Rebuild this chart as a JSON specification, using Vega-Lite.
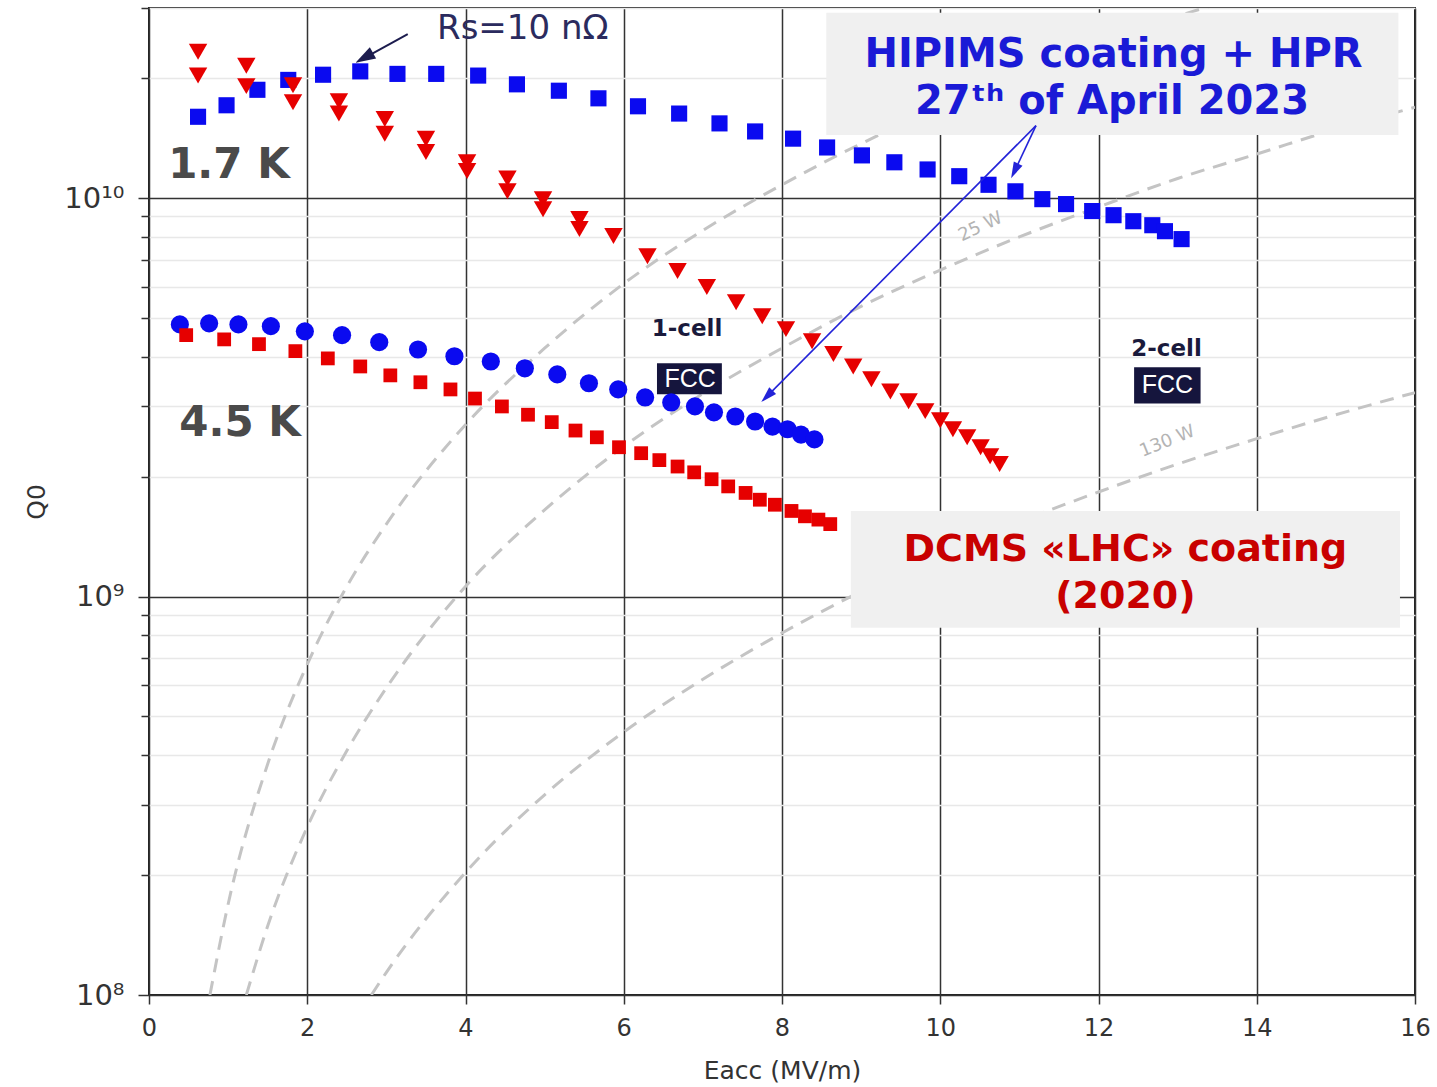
{
  "$schema": "https://vega.github.io/schema/vega-lite/v6.json",
  "width": 1266,
  "height": 987,
  "autosize": {"type": "none"},
  "padding": {"left": 149, "top": 8, "right": 22, "bottom": 92},
  "background": "white",
  "config": {"view": {"stroke": "#222222", "strokeWidth": 2}, "font": "DejaVu Sans"},
  "datasets": {
    "hipims17": [
      {"E":0.62,"Q":1.60e10},{"E":0.98,"Q":1.71e10},{"E":1.37,"Q":1.87e10},{"E":1.76,"Q":1.98e10},{"E":2.20,"Q":2.04e10},{"E":2.67,"Q":2.08e10},{"E":3.14,"Q":2.05e10},{"E":3.63,"Q":2.05e10},{"E":4.16,"Q":2.03e10},{"E":4.65,"Q":1.93e10},{"E":5.18,"Q":1.86e10},{"E":5.68,"Q":1.78e10},{"E":6.18,"Q":1.70e10},{"E":6.70,"Q":1.63e10},{"E":7.21,"Q":1.54e10},{"E":7.66,"Q":1.47e10},{"E":8.14,"Q":1.41e10},{"E":8.57,"Q":1.34e10},{"E":9.01,"Q":1.28e10},{"E":9.42,"Q":1.23e10},{"E":9.84,"Q":1.18e10},{"E":10.24,"Q":1.135e10},{"E":10.61,"Q":1.08e10},{"E":10.95,"Q":1.04e10},{"E":11.29,"Q":9.94e9},{"E":11.59,"Q":9.66e9},{"E":11.92,"Q":9.28e9},{"E":12.19,"Q":9.06e9},{"E":12.44,"Q":8.75e9},{"E":12.68,"Q":8.55e9},{"E":12.84,"Q":8.26e9},{"E":13.05,"Q":7.89e9}
    ],
    "dcms17": [
      {"E":0.62,"Q":2.33e10},{"E":0.62,"Q":2.03e10},{"E":1.23,"Q":2.15e10},{"E":1.23,"Q":1.91e10},{"E":1.82,"Q":1.92e10},{"E":1.82,"Q":1.74e10},{"E":2.40,"Q":1.75e10},{"E":2.40,"Q":1.63e10},{"E":2.98,"Q":1.58e10},{"E":2.98,"Q":1.45e10},{"E":3.50,"Q":1.41e10},{"E":3.50,"Q":1.305e10},{"E":4.02,"Q":1.23e10},{"E":4.02,"Q":1.17e10},{"E":4.53,"Q":1.12e10},{"E":4.53,"Q":1.04e10},{"E":4.98,"Q":9.94e9},{"E":4.98,"Q":9.38e9},{"E":5.44,"Q":8.86e9},{"E":5.44,"Q":8.36e9},{"E":5.87,"Q":8.03e9},{"E":6.30,"Q":7.15e9},{"E":6.68,"Q":6.56e9},{"E":7.05,"Q":5.98e9},{"E":7.42,"Q":5.48e9},{"E":7.75,"Q":5.05e9},{"E":8.05,"Q":4.69e9},{"E":8.38,"Q":4.37e9},{"E":8.65,"Q":4.06e9},{"E":8.90,"Q":3.78e9},{"E":9.13,"Q":3.51e9},{"E":9.37,"Q":3.27e9},{"E":9.60,"Q":3.09e9},{"E":9.81,"Q":2.92e9},{"E":10.00,"Q":2.77e9},{"E":10.16,"Q":2.63e9},{"E":10.34,"Q":2.51e9},{"E":10.51,"Q":2.37e9},{"E":10.63,"Q":2.25e9},{"E":10.75,"Q":2.15e9}
    ],
    "hipims45": [
      {"E":0.39,"Q":4.82e9},{"E":0.76,"Q":4.85e9},{"E":1.13,"Q":4.82e9},{"E":1.54,"Q":4.77e9},{"E":1.97,"Q":4.63e9},{"E":2.44,"Q":4.53e9},{"E":2.91,"Q":4.35e9},{"E":3.40,"Q":4.17e9},{"E":3.86,"Q":4.01e9},{"E":4.32,"Q":3.89e9},{"E":4.75,"Q":3.74e9},{"E":5.16,"Q":3.61e9},{"E":5.56,"Q":3.43e9},{"E":5.93,"Q":3.31e9},{"E":6.27,"Q":3.16e9},{"E":6.60,"Q":3.07e9},{"E":6.90,"Q":3.00e9},{"E":7.14,"Q":2.90e9},{"E":7.41,"Q":2.83e9},{"E":7.66,"Q":2.75e9},{"E":7.88,"Q":2.67e9},{"E":8.07,"Q":2.63e9},{"E":8.24,"Q":2.55e9},{"E":8.41,"Q":2.48e9}
    ],
    "dcms45": [
      {"E":0.47,"Q":4.53e9},{"E":0.95,"Q":4.42e9},{"E":1.39,"Q":4.30e9},{"E":1.85,"Q":4.13e9},{"E":2.26,"Q":3.96e9},{"E":2.67,"Q":3.78e9},{"E":3.05,"Q":3.59e9},{"E":3.43,"Q":3.45e9},{"E":3.81,"Q":3.31e9},{"E":4.12,"Q":3.14e9},{"E":4.46,"Q":3.00e9},{"E":4.79,"Q":2.86e9},{"E":5.09,"Q":2.74e9},{"E":5.39,"Q":2.61e9},{"E":5.66,"Q":2.51e9},{"E":5.94,"Q":2.37e9},{"E":6.22,"Q":2.29e9},{"E":6.45,"Q":2.20e9},{"E":6.68,"Q":2.12e9},{"E":6.89,"Q":2.05e9},{"E":7.11,"Q":1.97e9},{"E":7.32,"Q":1.89e9},{"E":7.54,"Q":1.82e9},{"E":7.72,"Q":1.75e9},{"E":7.91,"Q":1.70e9},{"E":8.12,"Q":1.64e9},{"E":8.29,"Q":1.59e9},{"E":8.46,"Q":1.56e9},{"E":8.61,"Q":1.52e9}
    ],
    "curves": [
      {"curve":"A","E":0.77,"Q":1.0e8},{"curve":"A","E":1.0,"Q":1.69e8},{"curve":"A","E":1.5,"Q":3.8e8},{"curve":"A","E":2.0,"Q":6.76e8},{"curve":"A","E":2.5,"Q":1.06e9},{"curve":"A","E":3.0,"Q":1.52e9},{"curve":"A","E":4.0,"Q":2.7e9},{"curve":"A","E":5.0,"Q":4.2e9},{"curve":"A","E":6.0,"Q":6.1e9},{"curve":"A","E":7.0,"Q":8.3e9},{"curve":"A","E":8.0,"Q":1.08e10},{"curve":"A","E":9.0,"Q":1.37e10},{"curve":"A","E":10.0,"Q":1.69e10},{"curve":"A","E":11.0,"Q":2.04e10},{"curve":"A","E":12.0,"Q":2.43e10},{"curve":"A","E":13.0,"Q":2.86e10},{"curve":"A","E":13.4,"Q":3.03e10},
      {"curve":"B","E":1.23,"Q":1.0e8},{"curve":"B","E":1.5,"Q":1.49e8},{"curve":"B","E":2.0,"Q":2.64e8},{"curve":"B","E":2.5,"Q":4.1e8},{"curve":"B","E":3.0,"Q":5.9e8},{"curve":"B","E":4.0,"Q":1.06e9},{"curve":"B","E":5.0,"Q":1.65e9},{"curve":"B","E":6.0,"Q":2.38e9},{"curve":"B","E":7.0,"Q":3.23e9},{"curve":"B","E":8.0,"Q":4.2e9},{"curve":"B","E":9.0,"Q":5.35e9},{"curve":"B","E":10.0,"Q":6.6e9},{"curve":"B","E":11.0,"Q":7.99e9},{"curve":"B","E":12.0,"Q":9.5e9},{"curve":"B","E":13.0,"Q":1.12e10},{"curve":"B","E":14.0,"Q":1.29e10},{"curve":"B","E":15.0,"Q":1.49e10},{"curve":"B","E":16.0,"Q":1.69e10},
      {"curve":"C","E":2.81,"Q":1.0e8},{"curve":"C","E":3.0,"Q":1.14e8},{"curve":"C","E":4.0,"Q":2.03e8},{"curve":"C","E":5.0,"Q":3.18e8},{"curve":"C","E":6.0,"Q":4.57e8},{"curve":"C","E":7.0,"Q":6.2e8},{"curve":"C","E":8.0,"Q":8.1e8},{"curve":"C","E":9.0,"Q":1.03e9},{"curve":"C","E":10.0,"Q":1.27e9},{"curve":"C","E":11.0,"Q":1.54e9},{"curve":"C","E":12.0,"Q":1.83e9},{"curve":"C","E":13.0,"Q":2.15e9},{"curve":"C","E":14.0,"Q":2.49e9},{"curve":"C","E":15.0,"Q":2.86e9},{"curve":"C","E":16.0,"Q":3.25e9}
    ]
  },
  "encoding": {
    "x": {
      "field": "E", "type": "quantitative",
      "scale": {"domain": [0, 16], "nice": false, "zero": false},
      "axis": {
        "values": [0, 2, 4, 6, 8, 10, 12, 14, 16],
        "title": "Eacc (MV/m)",
        "grid": true, "gridColor": "#333333", "gridWidth": 1.5,
        "domain": false,
        "tickSize": 9, "tickColor": "#333333", "tickWidth": 1.5,
        "labelFlush": false,
        "labelFont": "DejaVu Sans", "labelFontSize": 24, "labelColor": "#333333", "labelPadding": 12,
        "titleFont": "DejaVu Sans", "titleFontSize": 25, "titleFontWeight": "normal", "titleColor": "#333333", "titlePadding": 18
      }
    },
    "y": {
      "field": "Q", "type": "quantitative",
      "scale": {"type": "log", "domain": [1e8, 3e10], "nice": false},
      "axis": {
        "values": [1e8, 2e8, 3e8, 4e8, 5e8, 6e8, 7e8, 8e8, 9e8, 1e9, 2e9, 3e9, 4e9, 5e9, 6e9, 7e9, 8e9, 9e9, 1e10, 2e10, 3e10],
        "labelExpr": "datum.value == 1e8 ? '10⁸' : datum.value == 1e9 ? '10⁹' : datum.value == 1e10 ? '10¹⁰' : ''",
        "labelOverlap": false,
        "labelFlush": false,
        "title": "Q0",
        "grid": true,
        "gridColor": {"condition": {"test": "datum.value == 1e8 || datum.value == 1e9 || datum.value == 1e10", "value": "#333333"}, "value": "#e8e8e8"},
        "gridWidth": 1.5,
        "domain": false,
        "tickSize": {"condition": {"test": "datum.value == 1e8 || datum.value == 1e9 || datum.value == 1e10", "value": 11}, "value": 8},
        "tickColor": "#333333", "tickWidth": 1.5,
        "labelFont": "DejaVu Sans", "labelFontSize": 29, "labelColor": "#333333", "labelPadding": 14,
        "titleFont": "DejaVu Sans", "titleFontSize": 25, "titleFontWeight": "normal", "titleColor": "#333333", "titlePadding": 14
      }
    }
  },
  "layer": [
    {
      "data": {"name": "curves"},
      "mark": {"type": "line", "color": "#c4c4c4", "strokeWidth": 3, "strokeDash": [14, 9], "interpolate": "monotone", "clip": true},
      "encoding": {"detail": {"field": "curve", "type": "nominal"}}
    },
    {
      "data": {"values": [
        {"E": 8.56, "E2": 15.79, "Q": 1.44e10, "Q2": 2.92e10},
        {"E": 8.87, "E2": 15.81, "Q": 8.35e8, "Q2": 1.64e9}
      ]},
      "mark": {"type": "rect", "color": "#f0f0f0"},
      "encoding": {"x2": {"field": "E2"}, "y2": {"field": "Q2"}}
    },
    {
      "data": {"values": [
        {"E": 6.42, "E2": 7.24, "Q": 3.22e9, "Q2": 3.85e9},
        {"E": 12.45, "E2": 13.29, "Q": 3.05e9, "Q2": 3.76e9}
      ]},
      "mark": {"type": "rect", "color": "#15153d"},
      "encoding": {"x2": {"field": "E2"}, "y2": {"field": "Q2"}}
    },
    {
      "data": {"name": "hipims45"},
      "mark": {"type": "point", "shape": "circle", "filled": true, "opacity": 1, "size": 330, "color": "#0a0af0"}
    },
    {
      "data": {"name": "dcms45"},
      "mark": {"type": "point", "shape": "square", "filled": true, "opacity": 1, "size": 190, "color": "#e60000"}
    },
    {
      "data": {"name": "hipims17"},
      "mark": {"type": "point", "shape": "square", "filled": true, "opacity": 1, "size": 260, "color": "#0a0af0"}
    },
    {
      "data": {"name": "dcms17"},
      "mark": {"type": "point", "shape": "triangle-down", "filled": true, "opacity": 1, "size": 340, "color": "#e60000"}
    },
    {
      "data": {"values": [
        {"id": "long", "E": 11.21, "Q": 1.52e10}, {"id": "long", "E": 7.81, "Q": 3.18e9},
        {"id": "short", "E": 11.21, "Q": 1.52e10}, {"id": "short", "E": 10.94, "Q": 1.17e10}
      ]},
      "mark": {"type": "line", "color": "#2323d8", "strokeWidth": 1.6},
      "encoding": {"detail": {"field": "id", "type": "nominal"}}
    },
    {
      "data": {"values": [{"E": 7.81, "Q": 3.18e9}]},
      "mark": {"type": "point", "shape": "M0,-1L0.6,1L-0.6,1Z", "filled": true, "opacity": 1, "size": 260, "color": "#2323d8", "angle": 225}
    },
    {
      "data": {"values": [{"E": 10.94, "Q": 1.17e10}]},
      "mark": {"type": "point", "shape": "M0,-1L0.6,1L-0.6,1Z", "filled": true, "opacity": 1, "size": 260, "color": "#2323d8", "angle": 206}
    },
    {
      "data": {"values": [{"id": "rs", "E": 3.27, "Q": 2.58e10}, {"id": "rs", "E": 2.69, "Q": 2.23e10}]},
      "mark": {"type": "line", "color": "#1c1c4e", "strokeWidth": 2},
      "encoding": {"detail": {"field": "id", "type": "nominal"}}
    },
    {
      "data": {"values": [{"E": 2.72, "Q": 2.25e10}]},
      "mark": {"type": "point", "shape": "M0,-1L0.65,1L-0.65,1Z", "filled": true, "opacity": 1, "size": 400, "color": "#1c1c4e", "angle": 241}
    },
    {
      "data": {"values": [{"E": 3.64, "Q": 2.66e10, "t": "Rs=10 nΩ"}]},
      "mark": {"type": "text", "align": "left", "baseline": "middle", "font": "DejaVu Sans", "fontSize": 34, "color": "#2b2b5e"},
      "encoding": {"text": {"field": "t"}}
    },
    {
      "data": {"values": [
        {"E": 12.19, "Q": 2.28e10, "t": "HIPIMS coating + HPR"},
        {"E": 12.17, "Q": 1.74e10, "t": "27ᵗʰ of April 2023"}
      ]},
      "mark": {"type": "text", "align": "center", "baseline": "middle", "font": "DejaVu Sans", "fontWeight": "bold", "fontSize": 40, "color": "#1a1ad6"},
      "encoding": {"text": {"field": "t"}}
    },
    {
      "data": {"values": [
        {"E": 12.34, "Q": 1.31e9, "t": "DCMS «LHC» coating"},
        {"E": 12.34, "Q": 1.0e9, "t": "(2020)"}
      ]},
      "mark": {"type": "text", "align": "center", "baseline": "middle", "font": "DejaVu Sans", "fontWeight": "bold", "fontSize": 38, "color": "#c80000"},
      "encoding": {"text": {"field": "t"}}
    },
    {
      "data": {"values": [
        {"E": 1.01, "Q": 1.21e10, "t": "1.7 K"},
        {"E": 1.15, "Q": 2.72e9, "t": "4.5 K"}
      ]},
      "mark": {"type": "text", "align": "center", "baseline": "middle", "font": "DejaVu Sans", "fontWeight": "bold", "fontSize": 42, "color": "#4a4a4a"},
      "encoding": {"text": {"field": "t"}}
    },
    {
      "data": {"values": [
        {"E": 6.80, "Q": 4.70e9, "t": "1-cell"},
        {"E": 12.86, "Q": 4.18e9, "t": "2-cell"}
      ]},
      "mark": {"type": "text", "align": "center", "baseline": "middle", "font": "DejaVu Sans", "fontWeight": "bold", "fontSize": 23, "color": "#1a1a3c"},
      "encoding": {"text": {"field": "t"}}
    },
    {
      "data": {"values": [
        {"E": 6.84, "Q": 3.51e9, "t": "FCC"},
        {"E": 12.87, "Q": 3.39e9, "t": "FCC"}
      ]},
      "mark": {"type": "text", "align": "center", "baseline": "middle", "font": "Liberation Sans", "fontSize": 25, "color": "#ffffff"},
      "encoding": {"text": {"field": "t"}}
    },
    {
      "data": {"values": [{"E": 10.51, "Q": 8.46e9, "t": "25 W"}]},
      "mark": {"type": "text", "align": "center", "baseline": "middle", "font": "DejaVu Sans", "fontSize": 18, "color": "#b4b4b4", "angle": -25},
      "encoding": {"text": {"field": "t"}}
    },
    {
      "data": {"values": [{"E": 12.87, "Q": 2.45e9, "t": "130 W"}]},
      "mark": {"type": "text", "align": "center", "baseline": "middle", "font": "DejaVu Sans", "fontSize": 18, "color": "#b4b4b4", "angle": -22},
      "encoding": {"text": {"field": "t"}}
    }
  ]
}
